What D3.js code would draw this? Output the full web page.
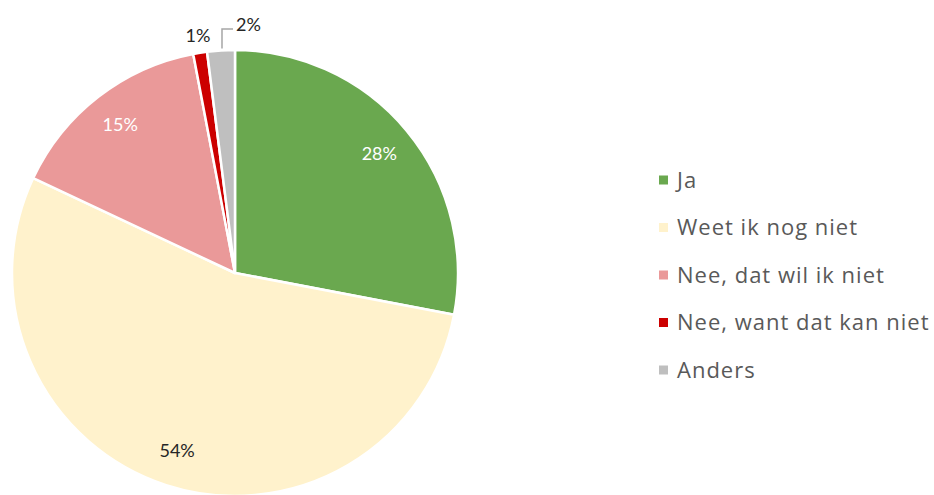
<!DOCTYPE html>
<html>
<head>
<meta charset="utf-8">
<script src="https://cdn.jsdelivr.net/npm/d3@7"></script>
<style>
  body { margin: 0; background: #fff; }
  text { font-family: Lato, "Open Sans", sans-serif; }
</style>
</head>
<body>
<div id="vis-container"></div>
<script>
const categories = ["Ja", "Weet ik nog niet", "Nee, dat wil ik niet", "Nee, want dat kan niet", "Anders"];
const values = [28, 54, 15, 1, 2];
const colors = ["#6aa84f", "#fff2cc", "#ea9999", "#cc0000", "#bfbfbf"];
const labelColors = ["#ffffff", "#262626", "#ffffff", "#262626", "#262626"];

const width = 934, height = 495;
const cx = 235, cy = 273, radius = 223;

const svg = d3.select("#vis-container")
  .append("svg")
    .attr("width", width)
    .attr("height", height);

const data = categories.map((c, i) => ({ name: c, value: values[i], i }));

const pie = d3.pie().sort(null).value(d => d.value);
const arcs = pie(data);

const arc = d3.arc().innerRadius(0).outerRadius(radius);
const labelArc = d3.arc().innerRadius(radius * 0.84).outerRadius(radius * 0.84);

const g = svg.append("g").attr("transform", `translate(${cx},${cy})`);

// Slices
g.selectAll("path.slice")
  .data(arcs)
  .join("path")
    .attr("class", "slice")
    .attr("d", arc)
    .attr("fill", d => colors[d.data.i])
    .attr("stroke", "#fff")
    .attr("stroke-width", 2.5)
    .attr("stroke-linejoin", "round");

// Inside labels for big slices
g.selectAll("text.inlabel")
  .data(arcs.filter(d => d.data.value >= 5))
  .join("text")
    .attr("class", "inlabel")
    .attr("transform", d => `translate(${labelArc.centroid(d)})`)
    .attr("text-anchor", "middle")
    .attr("dy", "0.35em")
    .attr("fill", d => labelColors[d.data.i])
    .style("font-size", "18px")
    .text(d => d.data.value + "%");

// Outside labels for small slices
const small = arcs.filter(d => d.data.value < 5);
small.forEach(d => {
  const mid = (d.startAngle + d.endAngle) / 2;
  const px = Math.sin(mid) * radius, py = -Math.cos(mid) * radius;
  if (d.data.name === "Anders") {
    const topY = -radius - 21;
    g.append("polyline")
      .attr("points", `${px + 1},${py - 2} ${px + 1},${topY} ${px + 12},${topY}`)
      .attr("fill", "none")
      .attr("stroke", "#a6a6a6")
      .attr("stroke-width", 1.5);
    g.append("text")
      .attr("x", px + 15)
      .attr("y", topY)
      .attr("dy", "0.1em")
      .attr("fill", labelColors[d.data.i])
      .style("font-size", "18px")
      .text(d.data.value + "%");
  } else {
    const r = radius + 17;
    g.append("text")
      .attr("x", Math.sin(mid) * r + 13)
      .attr("y", -Math.cos(mid) * r)
      .attr("dy", "0.35em")
      .attr("text-anchor", "end")
      .attr("fill", labelColors[d.data.i])
      .style("font-size", "18px")
      .text(d.data.value + "%");
  }
});

// Legend
const legend = svg.append("g").attr("transform", "translate(659,180)");
const rows = legend.selectAll("g")
  .data(data)
  .join("g")
    .attr("transform", (d, i) => `translate(0,${i * 47.5})`);

rows.append("rect")
  .attr("x", 0)
  .attr("y", -4.5)
  .attr("width", 9)
  .attr("height", 9)
  .attr("fill", d => colors[d.i]);

rows.append("text")
  .attr("x", 18)
  .attr("dy", "0.35em")
  .attr("fill", "#595959")
  .style("font-family", "'Open Sans', sans-serif")
  .style("font-size", "22px")
  .style("letter-spacing", "1px")
  .text(d => d.name);
</script>
</body>
</html>
